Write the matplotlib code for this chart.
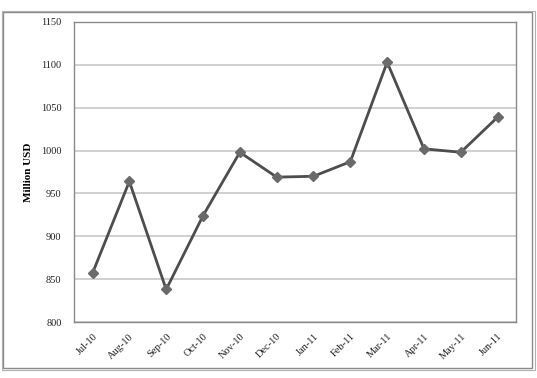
import matplotlib
matplotlib.use("Agg")
import matplotlib.pyplot as plt
from matplotlib.patches import Rectangle

# DATA ----------------------------------------------------------------------- #
months = ["Jul-10", "Aug-10", "Sep-10", "Oct-10", "Nov-10", "Dec-10",
          "Jan-11", "Feb-11", "Mar-11", "Apr-11", "May-11", "Jun-11"]
values = [857, 964, 838, 924, 998, 969, 970, 987, 1103, 1002, 998, 1039]
y_ticks = [800, 850, 900, 950, 1000, 1050, 1100, 1150]

# PLOT ----------------------------------------------------------------------- #
plt.rcParams["font.family"] = ["Liberation Serif", "DejaVu Serif"]

fig = plt.figure(figsize=(5.37, 3.78), dpi=100)
fig.patch.set_facecolor("white")

# outer chart frame
fig.patches.append(Rectangle((0.006, 0.026), 0.985, 0.942, transform=fig.transFigure,
                             fill=False, edgecolor="#8a8a8a", linewidth=1.0))
fig.patches.append(Rectangle((0.004, 0.020), 0.993, 0.952, transform=fig.transFigure,
                             fill=False, edgecolor="#b0b0b0", linewidth=0.8))

ax = fig.add_axes([0.138, 0.148, 0.823, 0.794])
x = list(range(len(months)))
ax.plot(x, values, color="#4d4d4d", linewidth=2.0, marker="D", markersize=5,
        markerfacecolor="#6a6a6a", markeredgecolor="#6a6a6a")

ax.set_xlim(-0.5, len(months) - 0.5)
ax.set_ylim(800, 1150)
ax.set_yticks(y_ticks)
ax.set_xticks(x)
ax.set_xticklabels(months, rotation=45, ha="right", rotation_mode="anchor")
ax.tick_params(axis="both", length=0, labelsize=7.5, colors="#222222", pad=7)
ax.tick_params(axis="y", pad=9)
ax.grid(axis="y", color="#c8c8c8", linewidth=1.2)
ax.set_axisbelow(True)
for spine in ax.spines.values():
    spine.set_color("#8a8a8a")
    spine.set_linewidth(1.0)

ax.set_ylabel("Million USD", fontsize=8, fontweight="bold", labelpad=6)

fig.savefig("out.png", dpi=100)
